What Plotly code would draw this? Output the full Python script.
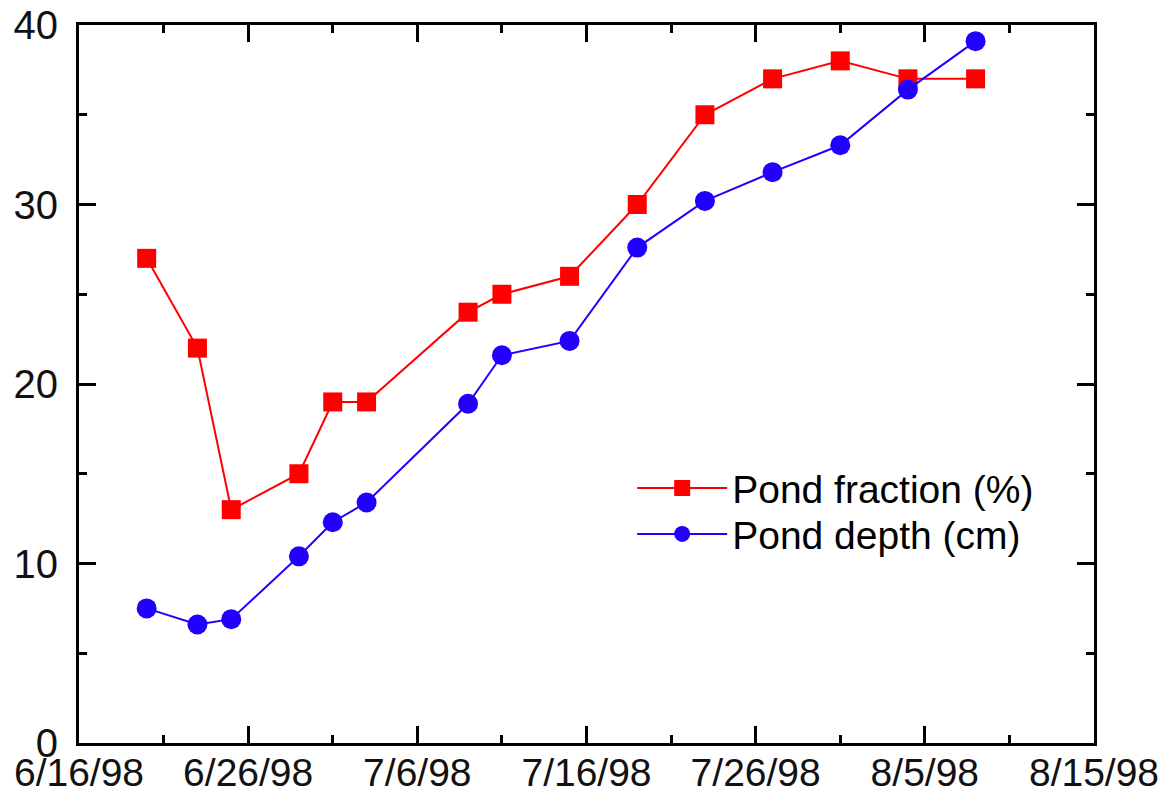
import plotly.graph_objects as go

dates = ["1998-06-20", "1998-06-23", "1998-06-25", "1998-06-29", "1998-07-01", "1998-07-03",
         "1998-07-09", "1998-07-11", "1998-07-15", "1998-07-19", "1998-07-23", "1998-07-27",
         "1998-07-31", "1998-08-04", "1998-08-08"]
pond_fraction = [27, 22, 13, 15, 19, 19, 24, 25, 26, 30, 35, 37, 38, 37, 37]
pond_depth = [7.5, 6.6, 6.9, 10.4, 12.3, 13.4, 18.9, 21.6, 22.4, 27.6, 30.2, 31.8, 33.3, 36.4, 39.1]

RED = "#ff0000"
BLUE = "#2200ff"
FONT = "Liberation Sans, Arial, sans-serif"
DAY = 86400000

fig = go.Figure()
fig.add_trace(go.Scatter(x=dates, y=pond_fraction, name="Pond fraction (%)", mode="lines+markers",
                         line=dict(color=RED, width=2), legend="legend",
                         marker=dict(symbol="square", size=19, color=RED)))
fig.add_trace(go.Scatter(x=dates, y=pond_depth, name="Pond depth (cm)", mode="lines+markers",
                         line=dict(color=BLUE, width=2), legend="legend2",
                         marker=dict(symbol="circle", size=20, color=BLUE)))

axis_common = dict(showline=True, linecolor="black", linewidth=3, mirror="ticks",
                   ticks="inside", ticklen=17, tickwidth=3, tickcolor="black",
                   showgrid=False, zeroline=False, automargin=False)

fig.update_xaxes(type="date", range=["1998-06-16", "1998-08-15"], tick0="1998-06-16",
                 dtick=10 * DAY, tickformat="%-m/%-d/%y", ticklabelstandoff=-7,
                 tickfont=dict(family=FONT, size=39, color="#111111"),
                 minor=dict(dtick=5 * DAY, tick0="1998-06-16", ticks="inside", ticklen=8,
                            tickwidth=3, tickcolor="black", showgrid=False),
                 **axis_common)
fig.update_yaxes(range=[0, 40], tick0=0, dtick=10, ticklabelstandoff=10,
                 tickfont=dict(family=FONT, size=40, color="#111111"),
                 minor=dict(dtick=5, ticks="inside", ticklen=8, tickwidth=3,
                            tickcolor="black", showgrid=False),
                 **axis_common)

legend_common = dict(x=0.545, xanchor="left", yanchor="middle",
                     bgcolor="rgba(0,0,0,0)", itemwidth=90,
                     font=dict(family=FONT, size=39, color="black"))

fig.update_layout(
    width=1165, height=794,
    margin=dict(l=79, r=71, t=25, b=51),
    paper_bgcolor="white", plot_bgcolor="white",
    font=dict(family=FONT, size=40, color="black"),
    showlegend=True,
    legend=dict(y=0.355, **legend_common),
    legend2=dict(y=0.291, **legend_common),
)

fig.write_html("out.html")
